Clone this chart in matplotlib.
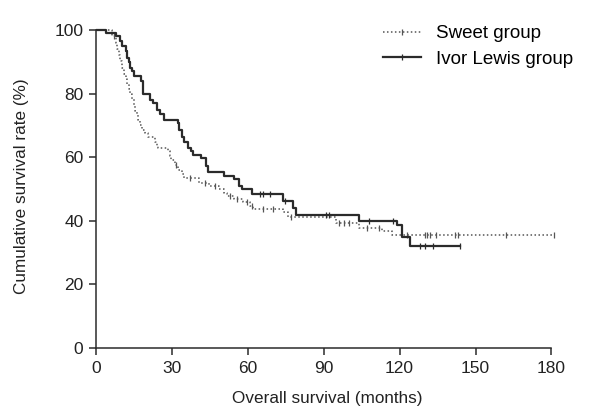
import matplotlib.pyplot as plt
import numpy as np

plt.rcParams['font.family'] = ['Liberation Sans', 'DejaVu Sans']

# Kaplan-Meier steps (months, survival %)
sweet_t = [0, 6.5, 7.8, 8.4, 9.1, 9.7, 10.4, 11.0, 11.7, 12.3, 13.0, 13.6, 14.3, 14.9,
           15.6, 16.2, 16.8, 17.5, 18.1, 19.4, 20.7, 23.3, 24.0, 24.6, 28.5, 29.2, 29.8,
           31.1, 32.4, 34.0, 35.0, 40.8, 44.7, 48.6, 50.5, 51.8, 54.4, 58.3, 60.9, 62.2,
           73.9, 75.8, 95, 104, 113, 117, 181]
sweet_s = [100, 98, 96, 94, 92.2, 90.2, 88.1, 86, 84.5, 83, 81.4, 79.8, 78.2, 76.5,
           74.5, 73.2, 71.6, 70.1, 68.5, 67.5, 66.5, 64.9, 63.4, 62.8, 61.8, 60.3, 59.2,
           57.7, 56.1, 54.6, 53.5, 52, 51, 49.9, 48.9, 47.9, 46.8, 45.8, 44.8, 43.7,
           42.7, 41.2, 39.2, 37.8, 36.8, 35.7, 35.7]
sweet_cens = [7.1, 31.5, 37, 43, 47, 53, 55.7, 59.6, 61.6, 66, 70, 77, 96, 98, 100,
              107, 112, 123, 130, 131, 132, 134.5, 142, 143, 162, 181]

ivor_t = [0, 3.9, 7.8, 9.7, 10.4, 11.7, 12.3, 13.0, 13.6, 14.3, 14.9, 17.8, 18.5,
          21.4, 22.7, 24.0, 25.3, 27.0, 32.4, 33.0, 34.0, 34.7, 36.3, 37.6, 38.2, 41.5,
          43.4, 44.1, 50.5, 54.4, 56.4, 57.7, 61.6, 73.9, 78, 79, 103.8, 119, 121, 124,
          144]
ivor_s = [100, 99, 98, 96.5, 94.9, 93.5, 91.2, 90, 88.1, 87, 85.6, 84, 80,
          77.9, 76.9, 74.7, 73.7, 71.6, 70.6, 68.5, 66.5, 64.9, 63, 61.8, 60.8, 59.8,
          57.2, 55.5, 54.1, 53, 50.9, 49.9, 48.4, 46.3, 44, 41.8, 39.8, 38.7, 35, 32,
          32]
ivor_cens = [64.8, 66.1, 68.7, 74.6, 91, 92.2, 108, 117.5, 128, 130, 133, 144]

x_ticks = [0, 30, 60, 90, 120, 150, 180]
y_ticks = [0, 20, 40, 60, 80, 100]

dark = '#2b2b2b'
grey = '#555555'
text_col = '#222222'
dots = (0, (1, 1.6))


def value_at(t, s, when):
    idx = np.searchsorted(t, when, side='right') - 1
    return np.array(s)[idx]


fig = plt.figure(figsize=(6.07, 4.12), dpi=100)
ax = fig.add_axes([0.158, 0.155, 0.763, 0.784])

ax.step(sweet_t, sweet_s, where='post', color=grey, lw=1.1, ls=dots)
ax.plot(sweet_cens, value_at(sweet_t, sweet_s, sweet_cens), ls='none',
        marker='|', ms=5, mew=0.9, color=grey)
ax.step(ivor_t, ivor_s, where='post', color=dark, lw=1.6)
ax.plot(ivor_cens, value_at(ivor_t, ivor_s, ivor_cens), ls='none',
        marker='|', ms=5, mew=0.9, color=dark)

ax.set_xlim(0, 183)
ax.set_ylim(0, 101.5)
ax.set_xticks(x_ticks)
ax.set_yticks(y_ticks)
ax.spines['top'].set_visible(False)
ax.spines['right'].set_visible(False)
ax.spines['bottom'].set_bounds(0, 180)
ax.spines['left'].set_bounds(0, 100)
for sp in ('left', 'bottom'):
    ax.spines[sp].set_color(dark)
    ax.spines[sp].set_linewidth(1.1)
ax.tick_params(direction='out', length=5, width=1.1, colors=dark,
               labelsize=12.5, labelcolor=text_col, pad=4)
ax.set_xlabel('Overall survival (months)', fontsize=12.3, color=text_col, labelpad=11)
ax.set_ylabel('Cumulative survival rate (%)', fontsize=12.3, color=text_col, labelpad=18)

h1 = plt.Line2D([0, 0.5, 1], [0, 0, 0], color=grey, lw=1.1, ls=dots, marker='|',
                ms=5, mew=0.9, markevery=[1])
h2 = plt.Line2D([0, 0.5, 1], [0, 0, 0], color=dark, lw=1.6, marker='|', ms=5,
                mew=0.9, markevery=[1])
fig.legend([h1, h2], ['Sweet group', 'Ivor Lewis group'], loc='upper left',
           bbox_to_anchor=(383 / 607, 1 - 25 / 412), frameon=False, fontsize=13.5,
           handlelength=2.0, labelspacing=0.45, handletextpad=0.8, borderpad=0,
           borderaxespad=0)

fig.savefig('out.png', dpi=100)
